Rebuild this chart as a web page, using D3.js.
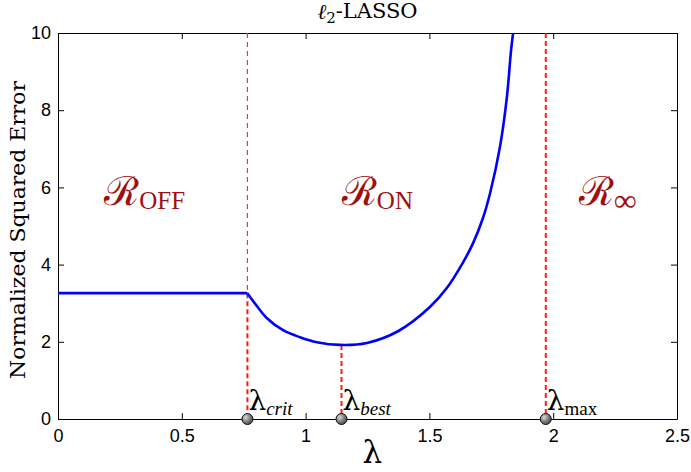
<!DOCTYPE html>
<html>
<head>
<meta charset="utf-8">
<script src="https://cdn.jsdelivr.net/npm/d3@7"></script>
<style>
  body { margin: 0; background: #fff; }
  svg { display: block; }
  .tick text { font-family: "Liberation Sans", Arial, sans-serif; font-size: 18px; fill: #000; }
</style>
</head>
<body>
<svg id="chart" width="691" height="472"></svg>
<script>
// values
const lambdaVals = [0, 0.765, 0.804, 0.844, 0.909, 0.977, 1.046, 1.139, 1.248, 1.375, 1.502, 1.571, 1.636, 1.676, 1.716, 1.745, 1.785, 1.813, 1.830, 1.842];
const errorVals  = [3.26, 3.26, 2.92, 2.61, 2.30, 2.12, 1.99, 1.92, 1.97, 2.28, 2.90, 3.40, 4.06, 4.55, 5.20, 5.85, 7.05, 8.34, 9.56, 10.2];

const markerNames = ['crit', 'best', 'max'];
const markerLambda = [0.765, 1.145, 1.97];
const markerTop = [3.26, 1.92, 10];

const xTicks = [0, 0.5, 1, 1.5, 2, 2.5];
const yTicks = [0, 2, 4, 6, 8, 10];

const regionNames = ['OFF', 'ON', '\u221E'];
const regionCenters = [0.35, 1.29, 2.22];
const regionY = 5.55;

const margin = { top: 33, right: 14, bottom: 53, left: 58 };
const width = 691, height = 472;
const w = width - margin.left - margin.right;
const h = height - margin.top - margin.bottom;

const svg = d3.select('#chart');

const defs = svg.append('defs');
const grad = defs.append('radialGradient')
  .attr('id', 'ball')
  .attr('cx', '35%').attr('cy', '35%').attr('r', '70%');
grad.append('stop').attr('offset', '0%').attr('stop-color', '#d8d8d8');
grad.append('stop').attr('offset', '60%').attr('stop-color', '#7a7a7a');
grad.append('stop').attr('offset', '100%').attr('stop-color', '#4a4a4a');

defs.append('clipPath').attr('id', 'plot-clip')
  .append('rect').attr('width', w).attr('height', h);

const g = svg.append('g').attr('transform', `translate(${margin.left},${margin.top})`);

const x = d3.scaleLinear().domain([0, 2.5]).range([0, w]);
const y = d3.scaleLinear().domain([0, 10]).range([h, 0]);

// axes with inward ticks, mirrored on top and right
g.append('g')
  .attr('transform', `translate(0,${h})`)
  .call(d3.axisBottom(x).tickValues(xTicks).tickSizeInner(-6).tickSizeOuter(0).tickPadding(10).tickFormat(d3.format('')))
  .call(a => a.select('.domain').attr('stroke', '#000'));

g.append('g')
  .call(d3.axisLeft(y).tickValues(yTicks).tickSizeInner(-6).tickSizeOuter(0).tickPadding(7))
  .call(a => a.select('.domain').attr('stroke', '#000'));

g.append('g')
  .call(d3.axisTop(x).tickValues(xTicks).tickSizeInner(-6).tickSizeOuter(0).tickFormat(''))
  .call(a => a.select('.domain').attr('stroke', '#000'));

g.append('g')
  .attr('transform', `translate(${w},0)`)
  .call(d3.axisRight(y).tickValues(yTicks).tickSizeInner(-6).tickSizeOuter(0).tickFormat(''))
  .call(a => a.select('.domain').attr('stroke', '#000'));

const plot = g.append('g').attr('clip-path', 'url(#plot-clip)');

// thin dashed guide above the crit point
plot.append('line')
  .attr('x1', x(markerLambda[0])).attr('x2', x(markerLambda[0]))
  .attr('y1', y(10)).attr('y2', y(markerTop[0]))
  .attr('stroke', '#e83a3a').attr('stroke-width', 1.2)
  .attr('stroke-dasharray', '5,4');

// red dashed verticals down to the axis
plot.selectAll('.vline')
  .data(markerLambda)
  .enter()
  .append('line')
  .attr('class', 'vline')
  .attr('x1', d => x(d)).attr('x2', d => x(d))
  .attr('y1', (d, i) => y(markerTop[i])).attr('y2', y(0))
  .attr('stroke', '#ff1a1a').attr('stroke-width', 2)
  .attr('stroke-dasharray', '5,3');

// error curve: flat part, then the smooth arc from the kink
const pts = lambdaVals.map((d, i) => [d, errorVals[i]]);
const line = d3.line().x(d => x(d[0])).y(d => y(d[1]));
plot.append('path')
  .datum(pts.slice(0, 2))
  .attr('fill', 'none')
  .attr('stroke', '#0000ff')
  .attr('stroke-width', 2.6)
  .attr('d', line);
plot.append('path')
  .datum(pts.slice(1))
  .attr('fill', 'none')
  .attr('stroke', '#0000ff')
  .attr('stroke-width', 2.6)
  .attr('stroke-linejoin', 'round')
  .attr('d', line.curve(d3.curveCatmullRom.alpha(0.5)));

// region labels
const regions = g.selectAll('.region')
  .data(regionNames)
  .enter()
  .append('text')
  .attr('class', 'region')
  .attr('x', (d, i) => x(regionCenters[i]))
  .attr('y', y(regionY))
  .attr('text-anchor', 'middle')
  .attr('fill', '#9e1010')
  .style('font-family', '"DejaVu Serif", serif');
regions.append('tspan')
  .style('font-size', '40px')
  .text('\u211B');
regions.append('tspan')
  .attr('dy', '0.18em')
  .style('font-size', (d, i) => i === 2 ? '32px' : '25px')
  .style('font-family', '"Liberation Serif", serif')
  .text(d => d);

// markers on the axis
g.selectAll('.ball')
  .data(markerLambda)
  .enter()
  .append('circle')
  .attr('class', 'ball')
  .attr('cx', d => x(d)).attr('cy', y(0))
  .attr('r', 5.5)
  .attr('fill', 'url(#ball)')
  .attr('stroke', '#111').attr('stroke-width', 1);

// lambda labels
const lab = g.selectAll('.lam')
  .data(markerNames)
  .enter()
  .append('text')
  .attr('class', 'lam')
  .attr('x', (d, i) => x(markerLambda[i]) + 1)
  .attr('y', y(0) - 9)
  .style('font-family', '"DejaVu Serif", serif');
lab.append('tspan').style('font-size', '28px').text('\u03BB');
lab.append('tspan')
  .attr('dy', '0.25em')
  .style('font-family', '"Liberation Serif", serif')
  .style('font-size', '19px')
  .style('font-style', d => d === 'max' ? 'normal' : 'italic')
  .text(d => d);

// x axis label
svg.append('text')
  .attr('x', margin.left + x(1.27))
  .attr('y', 463)
  .attr('text-anchor', 'middle')
  .style('font-family', '"DejaVu Serif", serif')
  .style('font-size', '31px')
  .text('\u03BB');

// y axis label
svg.append('text')
  .attr('transform', `translate(25,${margin.top + h / 2 + 4}) rotate(-90)`)
  .attr('text-anchor', 'middle')
  .attr('textLength', 298)
  .attr('lengthAdjust', 'spacingAndGlyphs')
  .style('font-family', '"DejaVu Serif", serif')
  .style('font-size', '20px')
  .text('Normalized Squared Error');

// title
const title = svg.append('text')
  .attr('x', margin.left + x(1.25))
  .attr('y', 19)
  .attr('text-anchor', 'middle')
  .style('font-family', '"DejaVu Serif", serif')
  .style('font-size', '21px');
title.append('tspan').style('font-style', 'italic').text('\u2113');
title.append('tspan').attr('dy', '0.25em').style('font-size', '15px').text('2');
title.append('tspan').attr('dy', '-0.25em').text('-LASSO');
</script>
</body>
</html>
